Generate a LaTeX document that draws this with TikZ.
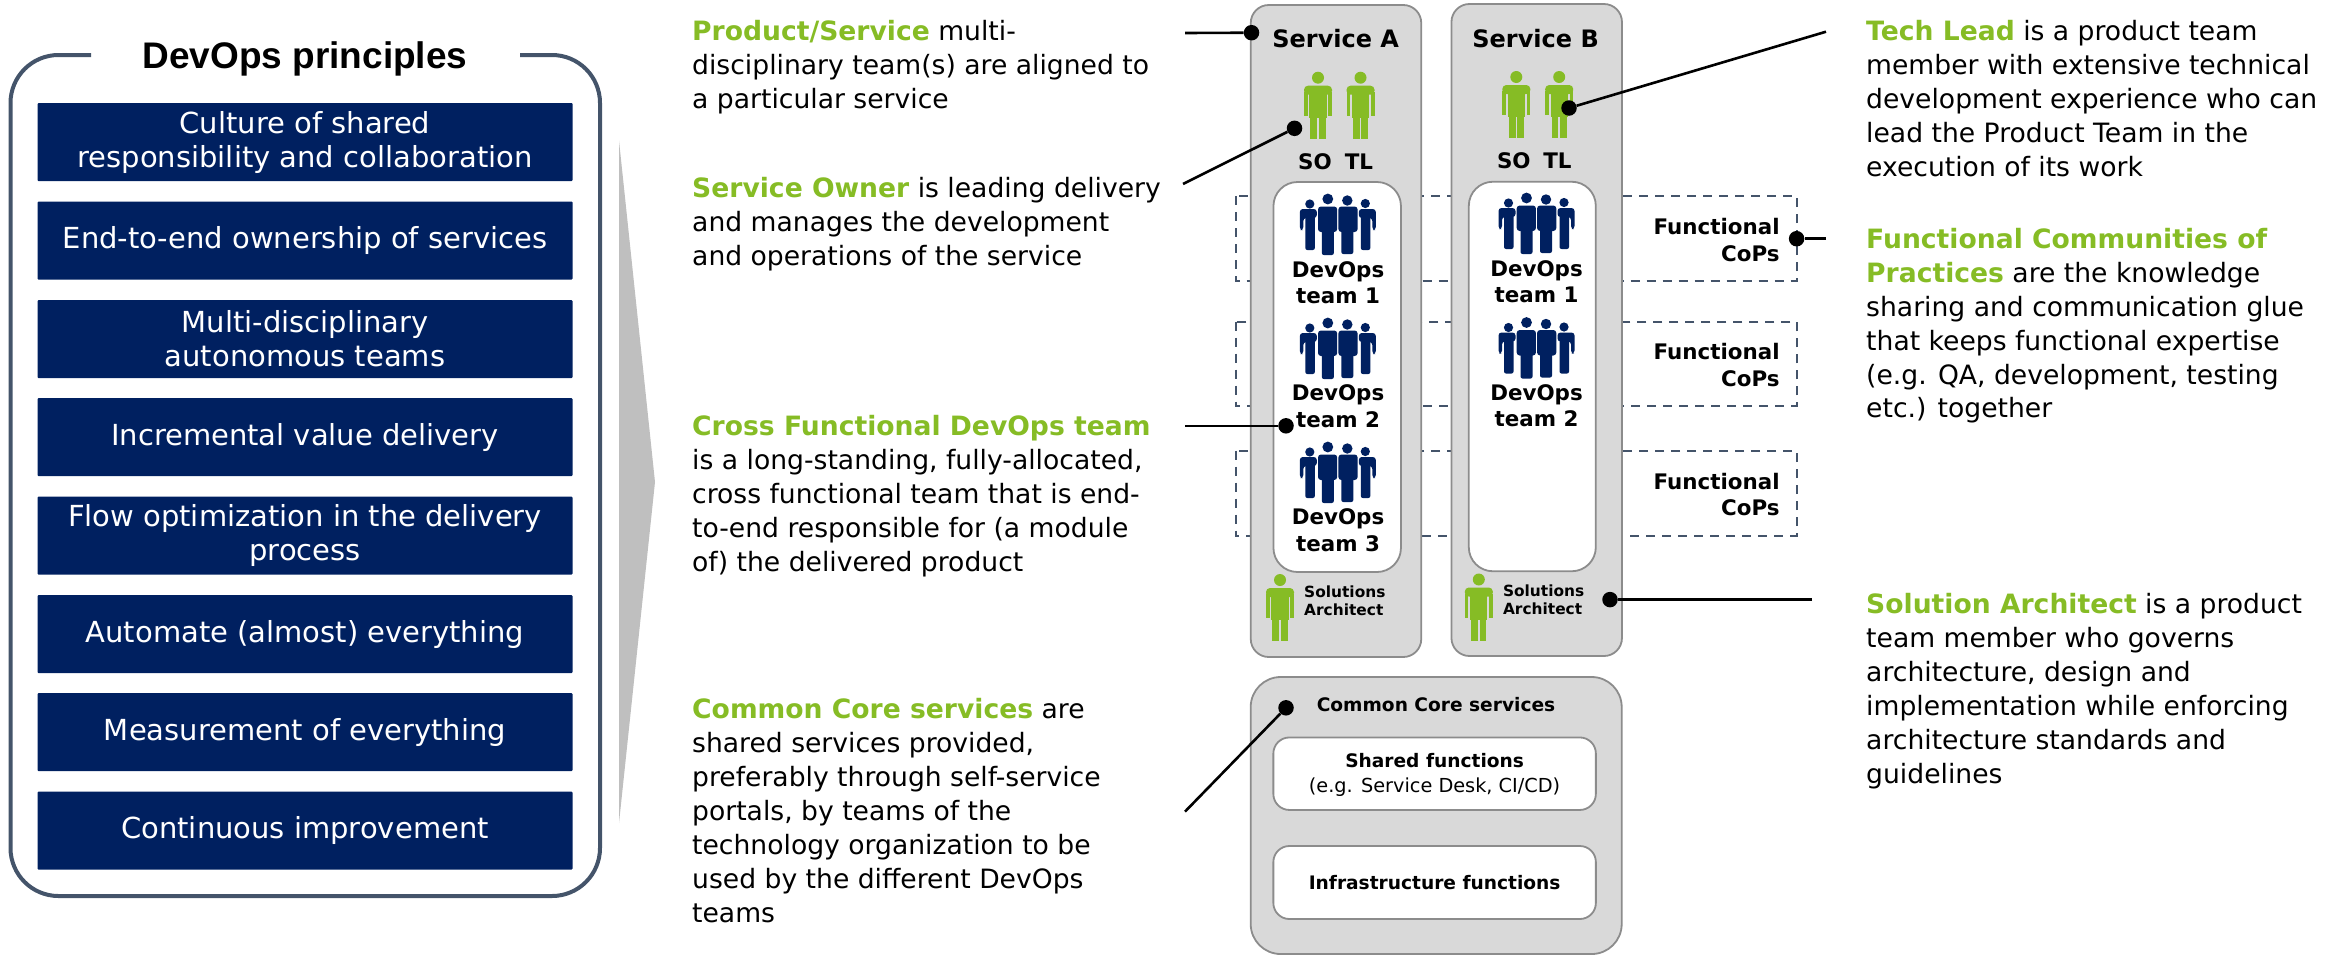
\documentclass[tikz,border=0pt]{standalone}
\usepackage{fontspec}
\setmainfont{DejaVu Sans}
\newfontfamily\arialf{Liberation Sans}
\definecolor{navy}{HTML}{002060}
\definecolor{dgreen}{HTML}{86BC25}
\definecolor{panel}{HTML}{D9D9D9}
\definecolor{edge}{HTML}{8C8C8C}
\definecolor{slate}{HTML}{44546A}
\newcommand{\fs}[2]{\fontsize{#1}{#2}\selectfont}
\newcommand{\gt}[1]{\textcolor{dgreen}{\textbf{#1}}}
\tikzset{
  x=1pt,y=-1pt,
  principle/.style={fill=navy,text=white,minimum width=535pt,minimum height=78pt,inner sep=0pt,align=center,font=\fs{29}{34},rounded corners=1pt},
  panelbox/.style={fill=panel,draw=edge,line width=1.8pt,inner sep=0pt},
  whitebox/.style={fill=white,draw=edge,line width=1.8pt,inner sep=0pt},
  cop/.style={draw=slate,line width=2pt,dash pattern=on 9pt off 7pt},
  desc/.style={anchor=north west,align=left,inner sep=0pt,font=\fs{26.6}{33.9}},
  lbl/.style={inner sep=0pt,align=center,font=\fs{21.4}{26.5}\bfseries},
  dot/.style={circle,fill=black,inner sep=0pt,minimum size=15.5pt},
  link/.style={line width=2.6pt,black},
  person/.pic={
    \fill (0,6) circle (6);
    \fill[rounded corners=4pt] (-14,23) -- (-14,14) -- (14,14) -- (14,23) -- cycle;
    \fill (-14,20) rectangle (-10.4,44);
    \fill (14,20) rectangle (10.4,44);
    \fill (-8.6,18) rectangle (8.6,46);
    \fill (-7.6,44) rectangle (-0.8,67);
    \fill (7.6,44) rectangle (0.8,67);
  },
  crowd/.pic={
    \fill (-28,10) circle (4.6);
    \fill (-10,5) circle (5.4);
    \fill (9.5,6.5) circle (5.2);
    \fill (27.5,9.5) circle (4.6);
    \fill[rounded corners=3pt] (-38,36) -- (-38,15) -- (-21,15) -- (-21,24) -- (-34.5,24) -- (-34.5,36) -- cycle;
    \fill[rounded corners=2pt] (-32.5,20) rectangle (-23,56);
    \fill[rounded corners=3pt] (38,36) -- (38,15) -- (21,15) -- (21,24) -- (34.5,24) -- (34.5,36) -- cycle;
    \fill[rounded corners=2pt] (32.5,20) rectangle (23,56);
    \fill[rounded corners=3pt] (-19.8,38) -- (-19.8,12.5) -- (-0.6,12.5) -- (-0.6,38) -- cycle;
    \fill[rounded corners=2pt] (-16,30) rectangle (-4,61);
    \fill[rounded corners=3pt] (0.6,38) -- (0.6,12.5) -- (19.8,12.5) -- (19.8,38) -- cycle;
    \fill[rounded corners=2pt] (3.5,30) rectangle (15.5,60);
  }
}
\begin{document}
\begin{tikzpicture}[x=1pt,y=-1pt]
\useasboundingbox (0,0) rectangle (2344,954);
% left frame
\draw[slate,line width=4pt,rounded corners=48pt] (91,55) -- (10.5,55) -- (10.5,896) -- (600,896) -- (600,55) -- (520,55);
\node[inner sep=0pt,font=\arialf\fs{37}{44}\bfseries] (ptitle) at (305,59) {DevOps principles};
\node[principle] (p1) at (305,142) {\raisebox{-2pt}{\parbox{530pt}{\centering Culture of shared\\responsibility and collaboration}}};
\node[principle] (p2) at (305,240.5) {\raisebox{-2pt}{End-to-end ownership of services}};
\node[principle] (p3) at (305,339) {\raisebox{-2pt}{\parbox{530pt}{\centering Multi-disciplinary\\autonomous teams}}};
\node[principle] (p4) at (305,437) {\raisebox{-2pt}{Incremental value delivery}};
\node[principle] (p5) at (305,535.5) {\raisebox{-2pt}{\parbox{530pt}{\centering Flow optimization in the delivery\\process}}};
\node[principle] (p6) at (305,634) {\raisebox{-2pt}{Automate (almost) everything}};
\node[principle] (p7) at (305,732) {\raisebox{-2pt}{Measurement of everything}};
\node[principle] (p8) at (305,830.5) {\raisebox{-2pt}{Continuous improvement}};
% grey pointer
\fill[fill=black!25] (619,140.5) -- (655,482) -- (619,823) -- cycle;
% left texts
\node[desc] (t1) at (692,20.5) {\gt{Product/Service} multi-\\disciplinary team(s) are aligned to\\a particular service};
\node[desc] (t2) at (692,177.5) {\gt{Service Owner} is leading delivery\\and manages the development\\and operations of the service};
\node[desc] (t3) at (692,415.5) {\gt{Cross Functional DevOps team}\\is a long-standing, fully-allocated,\\cross functional team that is end-\\to-end responsible for (a module\\of) the delivered product};
\node[desc] (t4) at (692,698.5) {\gt{Common Core services} are\\shared services provided,\\preferably through self-service\\portals, by teams of the\\technology organization to be\\used by the different DevOps\\teams};
% right texts
\node[desc] (t5) at (1866,20.5) {\gt{Tech Lead} is a product team\\member with extensive technical\\development experience who can\\lead the Product Team in the\\execution of its work};
\node[desc] (t6) at (1866,228) {\gt{Functional Communities of}\\\gt{Practices} are the knowledge\\sharing and communication glue\\that keeps functional expertise\\(e.g. QA, development, testing\\etc.) together};
\node[desc] (t7) at (1866,593.5) {\gt{Solution Architect} is a product\\team member who governs\\architecture, design and\\implementation while enforcing\\architecture standards and\\guidelines};
% dashed CoP bands
\draw[cop] (1235.5,196) rectangle (1796.6,281);
\draw[cop] (1235.5,321.7) rectangle (1796.6,406);
\draw[cop] (1235.5,450.5) rectangle (1796.6,535.7);
% service panels
\node[panelbox,rounded corners=18pt,minimum width=170.5pt,minimum height=652pt] (svcA) at (1336,331) {};
\node[panelbox,rounded corners=18pt,minimum width=170.5pt,minimum height=652pt] (svcB) at (1536.7,330) {};
\node[panelbox,rounded corners=30pt,minimum width=371pt,minimum height=277pt] (core) at (1436.2,815.5) {};
\node[whitebox,rounded corners=24pt,minimum width=127.5pt,minimum height=390pt] (teamsA) at (1337.2,377) {};
\node[whitebox,rounded corners=24pt,minimum width=127pt,minimum height=389.5pt] (teamsB) at (1532.3,376.5) {};
\node[whitebox,rounded corners=16pt,minimum width=322.5pt,minimum height=72.5pt] (shared) at (1434.6,773.7) {};
\node[whitebox,rounded corners=16pt,minimum width=322.5pt,minimum height=73pt] (infra) at (1434.6,882.5) {};
% headings
\node[lbl,font=\fs{24}{30}\bfseries] (sa) at (1335.7,39) {Service A};
\node[lbl,font=\fs{24}{30}\bfseries] (sb) at (1535.6,39) {Service B};
\node[lbl] (so1) at (1315,162) {SO};
\node[lbl] (tl1) at (1359,162) {TL};
\node[lbl] (so2) at (1513.8,161) {SO};
\node[lbl] (tl2) at (1557.5,161) {TL};
% people
\foreach \px/\py in {1318/71.7,1360.5/71.7,1516.3/71,1559.2/71,1280/574,1478.8/573.5}
  \pic[fill=dgreen] at (\px,\py) {person};
\foreach \px/\py in {1337.8/194,1337.8/318,1337.8/442,1536.5/193,1536.5/317.5}
  \pic[fill=navy] at (\px,\py) {crowd};
\node[lbl] (ta1) at (1338,282.5) {DevOps\\team 1};
\node[lbl] (ta2) at (1338,406) {DevOps\\team 2};
\node[lbl] (ta3) at (1338,530) {DevOps\\team 3};
\node[lbl] (tb1) at (1536.5,281.5) {DevOps\\team 1};
\node[lbl] (tb2) at (1536.5,405.5) {DevOps\\team 2};
\node[lbl,anchor=west,align=left,font=\fs{15.4}{18}\bfseries] (saa) at (1304,600.5) {Solutions\\Architect};
\node[lbl,anchor=west,align=left,font=\fs{15.4}{18}\bfseries] (sab) at (1502.8,599.5) {Solutions\\Architect};
\node[lbl,anchor=east,align=right] (c1) at (1779.8,240) {Functional\\CoPs};
\node[lbl,anchor=east,align=right] (c2) at (1779.8,365) {Functional\\CoPs};
\node[lbl,anchor=east,align=right] (c3) at (1779.8,494.5) {Functional\\CoPs};
\node[lbl,font=\fs{18.6}{24}\bfseries] (coret) at (1436,704.6) {Common Core services};
\node[lbl,font=\fs{19.3}{25.5}] (sharedt) at (1434.6,775) {{\fs{18.6}{25.5}\textbf{Shared functions}}\\(e.g. Service Desk, CI/CD)};
\node[lbl,font=\fs{18.6}{24}\bfseries] (infrat) at (1434.6,883) {Infrastructure functions};
% callouts
\coordinate (l1) at (1185,33);
\coordinate (l2) at (1183,184);
\coordinate (l3) at (1826,31.7);
\coordinate (l4) at (1826,238.7);
\coordinate (l5) at (1185,425.8);
\coordinate (l6) at (1812,599.6);
\coordinate (l7) at (1185,811.6);
\node[dot] (d1) at (1251.5,32.7) {};
\node[dot] (d2) at (1294.5,128.3) {};
\node[dot] (d3) at (1569,108) {};
\node[dot] (d4) at (1796.6,238.7) {};
\node[dot] (d5) at (1286,425.8) {};
\node[dot] (d6) at (1610,599.6) {};
\node[dot] (d7) at (1286,707.8) {};
\draw[link] (l1) -- (d1);
\draw[link] (l2) -- (d2);
\draw[link] (l3) -- (d3);
\draw[link] (l4) -- (d4);
\draw[link] (l5) -- (d5);
\draw[link] (l6) -- (d6);
\draw[link] (l7) -- (d7);
\end{tikzpicture}
\end{document}
